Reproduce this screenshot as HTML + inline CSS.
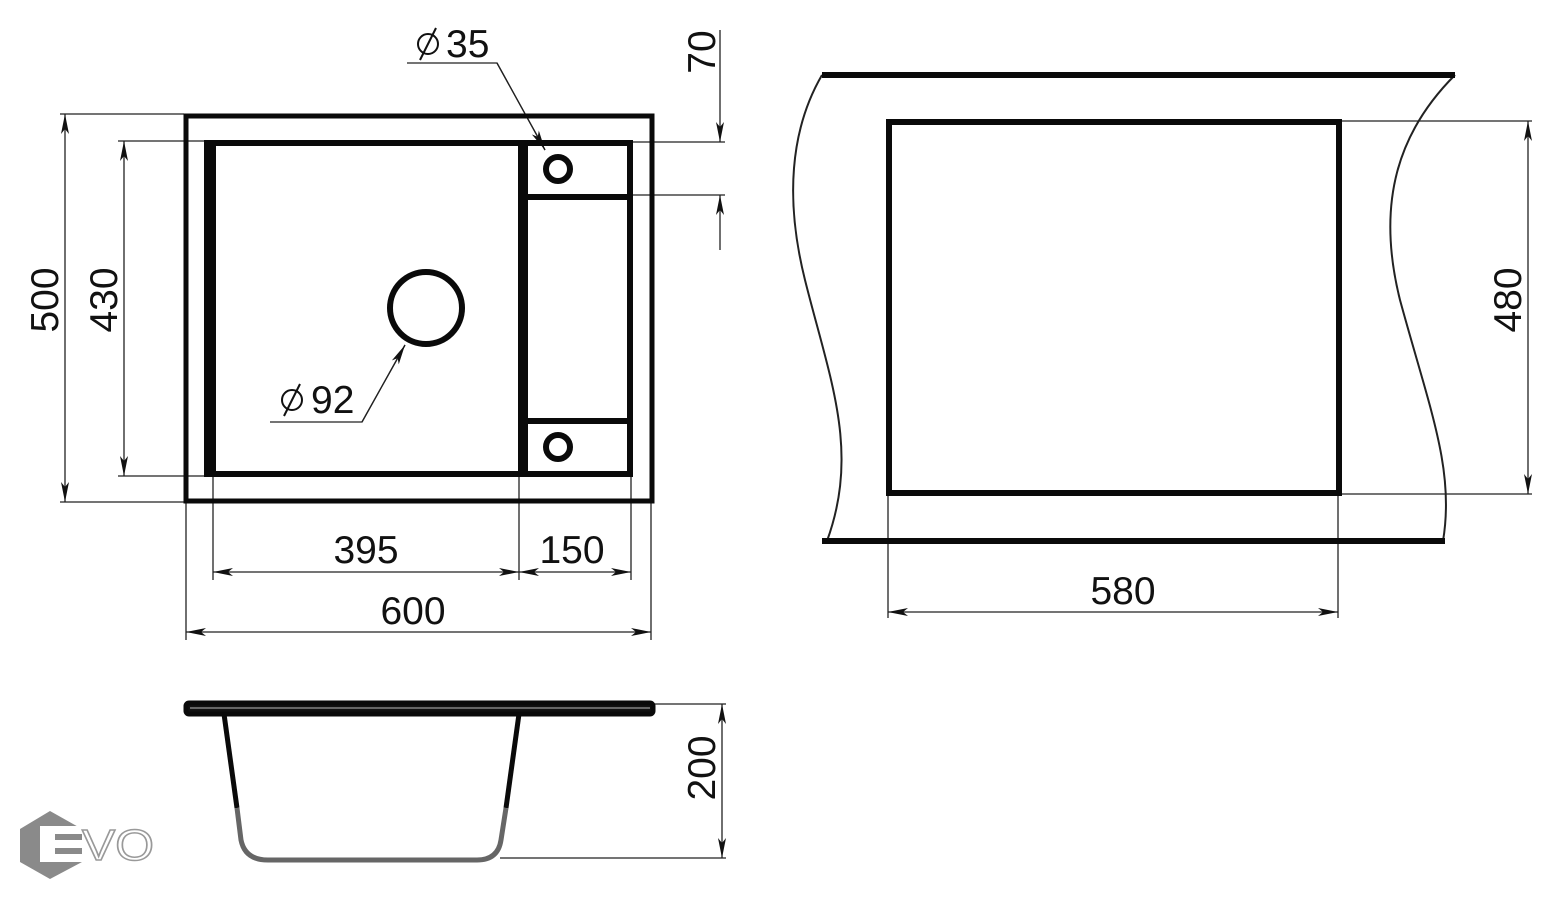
<!DOCTYPE html>
<html><head><meta charset="utf-8"><style>
html,body{margin:0;padding:0;background:#fff;}
svg{display:block}
text{font-family:"Liberation Sans",sans-serif;font-size:39px;fill:#111;}
</style></head><body>
<svg width="1565" height="900" viewBox="0 0 1565 900" xmlns="http://www.w3.org/2000/svg">
<defs>
<marker id="a" viewBox="0 0 20 8" refX="20" refY="4" markerWidth="20" markerHeight="8" markerUnits="userSpaceOnUse" orient="auto-start-reverse">
<path d="M0,0 L20,4 L0,8 L5,4 Z" fill="#111"/>
</marker>
</defs>
<g stroke="#222" stroke-width="1.3" fill="none">
<line x1="60" y1="114" x2="184" y2="114"/>
<line x1="60" y1="502" x2="184" y2="502"/>
<line x1="118" y1="141" x2="204" y2="141"/>
<line x1="118" y1="476" x2="204" y2="476"/>
<line x1="186" y1="502" x2="186" y2="640"/>
<line x1="651" y1="502" x2="651" y2="640"/>
<line x1="213" y1="476" x2="213" y2="580"/>
<line x1="519" y1="476" x2="519" y2="580"/>
<line x1="631" y1="476" x2="631" y2="580"/>
<line x1="631" y1="142" x2="725" y2="142"/>
<line x1="631" y1="195" x2="725" y2="195"/>
<line x1="65" y1="114" x2="65" y2="502" marker-start="url(#a)" marker-end="url(#a)"/>
<line x1="124" y1="141" x2="124" y2="476" marker-start="url(#a)" marker-end="url(#a)"/>
<line x1="213" y1="572" x2="519" y2="572" marker-start="url(#a)" marker-end="url(#a)"/>
<line x1="519" y1="572" x2="631" y2="572" marker-start="url(#a)" marker-end="url(#a)"/>
<line x1="186" y1="632" x2="651" y2="632" marker-start="url(#a)" marker-end="url(#a)"/>
<line x1="720" y1="30" x2="720" y2="142" marker-end="url(#a)"/>
<line x1="720" y1="250" x2="720" y2="195" marker-end="url(#a)"/>
<polyline points="407,63 497,63 545,150" />
<line x1="497" y1="63" x2="545" y2="150" marker-end="url(#a)"/>
<polyline points="270,422 362,422 405,345"/>
<line x1="362" y1="422" x2="405" y2="345" marker-end="url(#a)"/>
<line x1="1340" y1="121" x2="1532" y2="121"/>
<line x1="1340" y1="494" x2="1532" y2="494"/>
<line x1="1528" y1="121" x2="1528" y2="494" marker-start="url(#a)" marker-end="url(#a)"/>
<line x1="888" y1="494" x2="888" y2="618"/>
<line x1="1338" y1="494" x2="1338" y2="618"/>
<line x1="888" y1="612" x2="1338" y2="612" marker-start="url(#a)" marker-end="url(#a)"/>
<line x1="654" y1="704" x2="726" y2="704"/>
<line x1="500" y1="858" x2="726" y2="858"/>
<line x1="722" y1="704" x2="722" y2="858" marker-start="url(#a)" marker-end="url(#a)"/>
<path stroke-width="2" d="M822,75 C790,130 785,200 805,280 C830,380 860,450 827,541"/>
<path stroke-width="2" d="M1455,75 C1400,130 1375,200 1400,300 C1430,410 1455,470 1443,541"/>
</g>
<g fill="none" stroke="#0a0a0a">
<rect x="186" y="116" width="466" height="385" stroke-width="5"/>
<rect x="207" y="143" width="423" height="331" stroke-width="6"/>
<line x1="210" y1="143" x2="210" y2="474" stroke-width="12"/>
<line x1="523" y1="143" x2="523" y2="474" stroke-width="10"/>
<line x1="528" y1="197" x2="630" y2="197" stroke-width="6"/>
<line x1="528" y1="421" x2="630" y2="421" stroke-width="6"/>
<circle cx="558" cy="169" r="12" stroke-width="6"/>
<circle cx="558" cy="447" r="12" stroke-width="6"/>
<circle cx="426" cy="308" r="36" stroke-width="6"/>
<line x1="822" y1="75" x2="1455" y2="75" stroke-width="6"/>
<line x1="822" y1="541" x2="1445" y2="541" stroke-width="6"/>
<rect x="889" y="122" width="450" height="371" stroke-width="6"/>
<rect x="186" y="703" width="467" height="11" rx="3" stroke-width="5" fill="#111"/>
<path d="M224,714 L237,808" stroke-width="5"/>
<path d="M519,714 L506,808" stroke-width="5"/>
<path d="M237,808 L241,840 Q245,860 268,860 L477,860 Q498,860 501,840 L506,808" stroke="#666" stroke-width="5"/>
</g>
<line x1="190" y1="708" x2="650" y2="708" stroke="#bbb" stroke-width="1"/>
<text x="366" y="563" text-anchor="middle">395</text>
<text x="572" y="563" text-anchor="middle">150</text>
<text x="413" y="624" text-anchor="middle">600</text>
<text x="1123" y="604" text-anchor="middle">580</text>
<text transform="translate(58,300) rotate(-90)" text-anchor="middle">500</text>
<text transform="translate(117,300) rotate(-90)" text-anchor="middle">430</text>
<text transform="translate(1521,300) rotate(-90)" text-anchor="middle">480</text>
<text transform="translate(715,52) rotate(-90)" text-anchor="middle">70</text>
<text transform="translate(715,768) rotate(-90)" text-anchor="middle">200</text>
<text x="446" y="57">35</text>
<text x="311" y="413">92</text>
<g fill="none" stroke="#111" stroke-width="2">
<circle cx="428" cy="44" r="10"/><line x1="420" y1="60" x2="436" y2="28"/>
<circle cx="292" cy="400" r="10"/><line x1="284" y1="416" x2="300" y2="384"/>
</g>
<polygon points="50,811 82,829 82,862 50,879 20,862 20,829" fill="#8a8a8a"/>
<rect x="55" y="826" width="27" height="36" fill="#fff"/>
<rect x="40" y="826" width="15" height="36" fill="#fff"/>
<rect x="55" y="834" width="27" height="6" fill="#8a8a8a"/>
<rect x="55" y="848" width="27" height="6" fill="#8a8a8a"/>
<rect x="40" y="826" width="42" height="36" fill="none" stroke="#8a8a8a" stroke-width="0"/>
<text x="82" y="860" textLength="72" lengthAdjust="spacingAndGlyphs" style="font-size:44px;fill:#fff;stroke:#999;stroke-width:1.5">VO</text>
</svg>
</body></html>
